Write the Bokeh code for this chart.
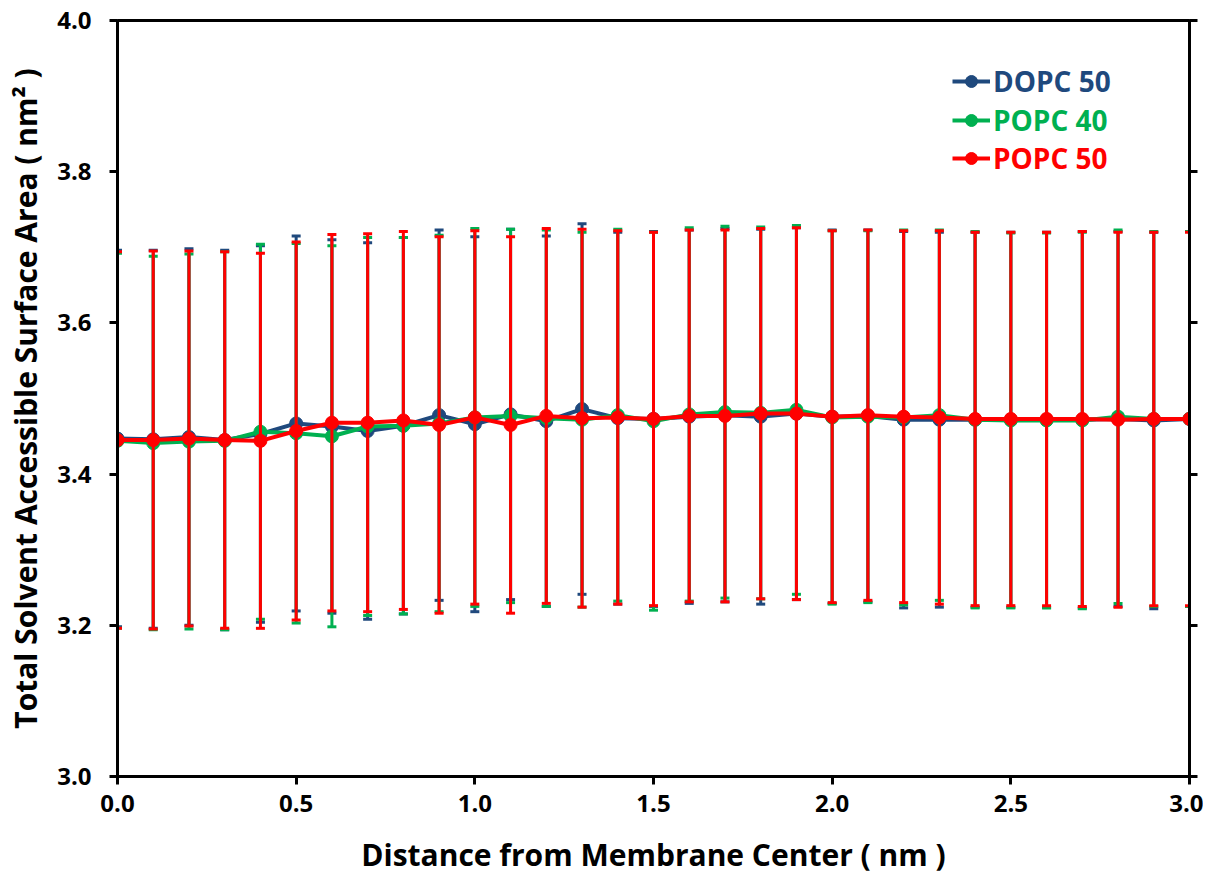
from bokeh.plotting import figure
from bokeh.models import (Range1d, LinearAxis, SingleIntervalTicker, PrintfTickFormatter,
                          CustomJSTickFormatter, Legend, LegendItem, ColumnDataSource)
from bokeh.embed import file_html
from bokeh.resources import INLINE

# ---------------- data ----------------
x = [0.0, 0.1, 0.2, 0.3, 0.4, 0.5, 0.6, 0.7, 0.8, 0.9, 1.0, 1.1, 1.2, 1.3, 1.4, 1.5,
     1.6, 1.7, 1.8, 1.9, 2.0, 2.1, 2.2, 2.3, 2.4, 2.5, 2.6, 2.7, 2.8, 2.9, 3.0]

dopc50 = [3.447, 3.446, 3.449, 3.445, 3.453, 3.467, 3.463, 3.457, 3.464, 3.478, 3.466,
          3.479, 3.470, 3.486, 3.474, 3.473, 3.476, 3.478, 3.476, 3.480, 3.476, 3.477,
          3.472, 3.472, 3.472, 3.472, 3.472, 3.472, 3.473, 3.471, 3.473]
dopc50_err = [0.249, 0.250, 0.249, 0.251, 0.249, 0.248, 0.247, 0.249, 0.249, 0.245, 0.248,
              0.245, 0.245, 0.245, 0.246, 0.248, 0.247, 0.247, 0.248, 0.246, 0.247, 0.246,
              0.249, 0.248, 0.248, 0.248, 0.248, 0.249, 0.248, 0.249, 0.248]

popc40 = [3.444, 3.441, 3.443, 3.444, 3.456, 3.454, 3.450, 3.463, 3.464, 3.467, 3.475,
          3.477, 3.474, 3.472, 3.478, 3.470, 3.479, 3.482, 3.481, 3.485, 3.475, 3.476,
          3.475, 3.478, 3.472, 3.471, 3.471, 3.471, 3.476, 3.473, 3.473]
popc40_err = [0.248, 0.247, 0.248, 0.250, 0.248, 0.251, 0.252, 0.250, 0.249, 0.249, 0.250,
              0.247, 0.249, 0.248, 0.246, 0.250, 0.247, 0.246, 0.246, 0.244, 0.247, 0.246,
              0.248, 0.245, 0.249, 0.248, 0.248, 0.249, 0.247, 0.248, 0.248]

popc50 = [3.445, 3.445, 3.447, 3.445, 3.444, 3.457, 3.468, 3.468, 3.471, 3.465, 3.475,
          3.465, 3.477, 3.474, 3.475, 3.473, 3.477, 3.477, 3.480, 3.480, 3.476, 3.478,
          3.476, 3.475, 3.473, 3.473, 3.473, 3.473, 3.472, 3.473, 3.473]
popc50_err = [0.249, 0.250, 0.248, 0.249, 0.248, 0.250, 0.249, 0.250, 0.250, 0.249, 0.247,
              0.249, 0.248, 0.250, 0.247, 0.247, 0.246, 0.246, 0.245, 0.246, 0.246, 0.245,
              0.246, 0.247, 0.247, 0.247, 0.247, 0.248, 0.248, 0.247, 0.247]

series = [
    ("DOPC 50", dopc50, dopc50_err, "#1F497D"),
    ("POPC 40", popc40, popc40_err, "#00B050"),
    ("POPC 50", popc50, popc50_err, "#FF0000"),
]

FONT = "Open Sans"

p = figure(frame_width=1072, frame_height=756,
           x_range=Range1d(0, 3), y_range=Range1d(3, 4),
           output_backend="svg", toolbar_location=None,
           min_border_left=117, min_border_top=20, min_border_right=14, min_border_bottom=97,
           background_fill_color="white", border_fill_color="white")

p.xgrid.visible = False
p.ygrid.visible = False
p.outline_line_color = "black"
p.outline_line_width = 3

def style_axis(ax):
    ax.axis_line_width = 3
    ax.axis_line_color = "black"
    ax.major_tick_line_width = 3
    ax.major_tick_line_color = "black"
    ax.major_tick_out = 8
    ax.major_tick_in = 0
    ax.minor_tick_line_color = None
    ax.major_label_text_font = FONT
    ax.major_label_text_font_style = "bold"
    ax.major_label_text_font_size = "24px"
    ax.major_label_text_color = "black"
    ax.axis_label_text_font = FONT
    ax.axis_label_text_font_style = "bold"
    ax.axis_label_text_font_size = "30px"
    ax.axis_label_text_color = "black"

xa = p.xaxis[0]
style_axis(xa)
xa.ticker = SingleIntervalTicker(interval=0.5)
xa.formatter = PrintfTickFormatter(format="%.1f")
xa.major_label_standoff = 10
xa.axis_label = "Distance from Membrane Center ( nm )"
xa.axis_label_standoff = 19

ya = p.yaxis[0]
style_axis(ya)
ya.ticker = SingleIntervalTicker(interval=0.2)
ya.formatter = PrintfTickFormatter(format="%.1f")
ya.major_label_standoff = 18
ya.axis_label = "Total Solvent Accessible Surface Area ( nm\u00b2 )"
ya.axis_label_standoff = 8

ra = LinearAxis(ticker=SingleIntervalTicker(interval=0.2),
                formatter=CustomJSTickFormatter(code="return ''"))
style_axis(ra)
ra.major_label_standoff = 0
p.add_layout(ra, "right")

legend_renderers = []
for name, ys, errs, color in series:
    src = ColumnDataSource(dict(
        x=x, y=ys,
        upper=[a + b for a, b in zip(ys, errs)],
        lower=[a - b for a, b in zip(ys, errs)],
    ))
    p.segment(x0="x", y0="lower", x1="x", y1="upper", source=src,
              line_color=color, line_width=3)
    p.scatter(x="x", y="upper", source=src, marker="dash", size=9,
              line_color=color, line_width=3)
    p.scatter(x="x", y="lower", source=src, marker="dash", size=9,
              line_color=color, line_width=3)
    lr = p.line(x="x", y="y", source=src, line_color=color, line_width=4)
    mr = p.scatter(x="x", y="y", source=src, marker="circle", size=13,
                   fill_color=color, line_color=color, line_width=1)
    legend_renderers.append((name, color, [lr, mr]))

# one legend per series so each label carries its series colour
legend_y = [676, 637, 599]
for (name, color, rends), ly in zip(legend_renderers, legend_y):
    lg = Legend(items=[LegendItem(label=name, renderers=rends)],
                location=(835, ly), padding=0, margin=0, spacing=0,
                glyph_width=38, glyph_height=30, label_height=30,
                label_standoff=3,
                border_line_color=None, background_fill_alpha=0,
                label_text_font=FONT, label_text_font_style="bold",
                label_text_font_size="28px", label_text_color=color)
    p.add_layout(lg, "center")

open("out.html", "w").write(file_html(p, INLINE))
